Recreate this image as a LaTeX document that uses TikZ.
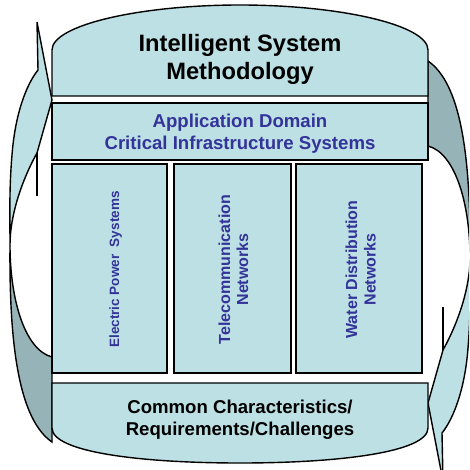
\documentclass[tikz,border=0pt]{standalone}
\usepackage{fontspec}
\setmainfont{Liberation Sans}
\definecolor{boxfill}{RGB}{188,224,227}
\definecolor{backfill}{RGB}{150,180,183}
\definecolor{textblue}{RGB}{51,51,153}
\tikzset{
  outl/.style={draw=black, line width=1.4pt, line join=miter},
  lightbox/.style={outl, fill=boxfill},
  darkface/.style={outl, fill=backfill},
  titletext/.style={inner sep=0pt, anchor=base, font=\fontsize{23.7}{28}\selectfont\bfseries},
  bluetext/.style={inner sep=0pt, anchor=base, text=textblue, font=\fontsize{18.6}{22}\selectfont\bfseries},
  blacktext/.style={inner sep=0pt, anchor=base, font=\fontsize{18.6}{22}\selectfont\bfseries},
  coltext/.style={inner sep=0pt, anchor=base, rotate=90, text=textblue, font=\fontsize{16}{18}\selectfont\bfseries},
  smallcoltext/.style={inner sep=0pt, anchor=base, rotate=90, text=textblue, font=\fontsize{13.5}{16}\selectfont\bfseries},
  curvarrow/.pic={
    % front face (arrow head and near part of the ribbon)
    \path[lightbox] (37,22) -- (52,100) -- (37,153)
      .. controls (22,180) and (10,215) .. (10,245)
      .. controls (10,220) and (9,190) .. (12,155)
      .. controls (15,115) and (26,85) .. (38,70)
      -- cycle;
    % back face of the ribbon
    \path[darkface] (10,245)
      .. controls (9,350) and (20,420) .. (52,442)
      -- (52,357)
      .. controls (25,350) and (10,300) .. (10,245)
      -- cycle;
    % base stub of the head
    \draw[outl] (37,153) -- (37,196);
  }
}
\begin{document}
\begin{tikzpicture}[x=1pt, y=-1pt]
  \useasboundingbox (0,0) rectangle (469,470);
  \clip (0,0) rectangle (469,470);

  % curved arrows
  \pic at (0,0) {curvarrow};
  \pic[rotate=180] at (480,503) {curvarrow};

  % top box
  \path[lightbox] (52,96) -- (52,50) .. controls (52,25) and (140,5) .. (240,5)
     .. controls (340,5) and (428,25) .. (428,50) -- (428,96) -- cycle;
  % application domain box
  \path[lightbox] (52,103) rectangle (428,160);
  % columns
  \path[lightbox] (52,164) rectangle (167,373);
  \path[lightbox] (174,164) rectangle (291,373);
  \path[lightbox] (296,164) rectangle (422,373);
  % bottom box
  \path[lightbox] (52,383) -- (52,428) .. controls (52,452) and (140,463) .. (240,463)
     .. controls (340,463) and (428,452) .. (428,428) -- (428,383) -- cycle;

  % texts
  \node[titletext] (title1) at (240,52) {Intelligent System};
  \node[titletext] (title2) at (240,80) {Methodology};
  \node[bluetext] (app1) at (240,128) {Application Domain};
  \node[bluetext] (app2) at (240,150) {Critical Infrastructure Systems};
  \node[smallcoltext] (elec) at (119,269.5) {Electric Power\ \ Systems};
  \node[coltext] (tel1) at (230,269.5) {Telecommunication};
  \node[coltext] (tel2) at (248,269.5) {Networks};
  \node[coltext] (wat1) at (357,269.5) {Water Distribution};
  \node[coltext] (wat2) at (375.5,269.5) {Networks};
  \node[blacktext] (com1) at (240,413) {Common Characteristics/};
  \node[blacktext] (com2) at (240,435) {Requirements/Challenges};
\end{tikzpicture}
\end{document}
